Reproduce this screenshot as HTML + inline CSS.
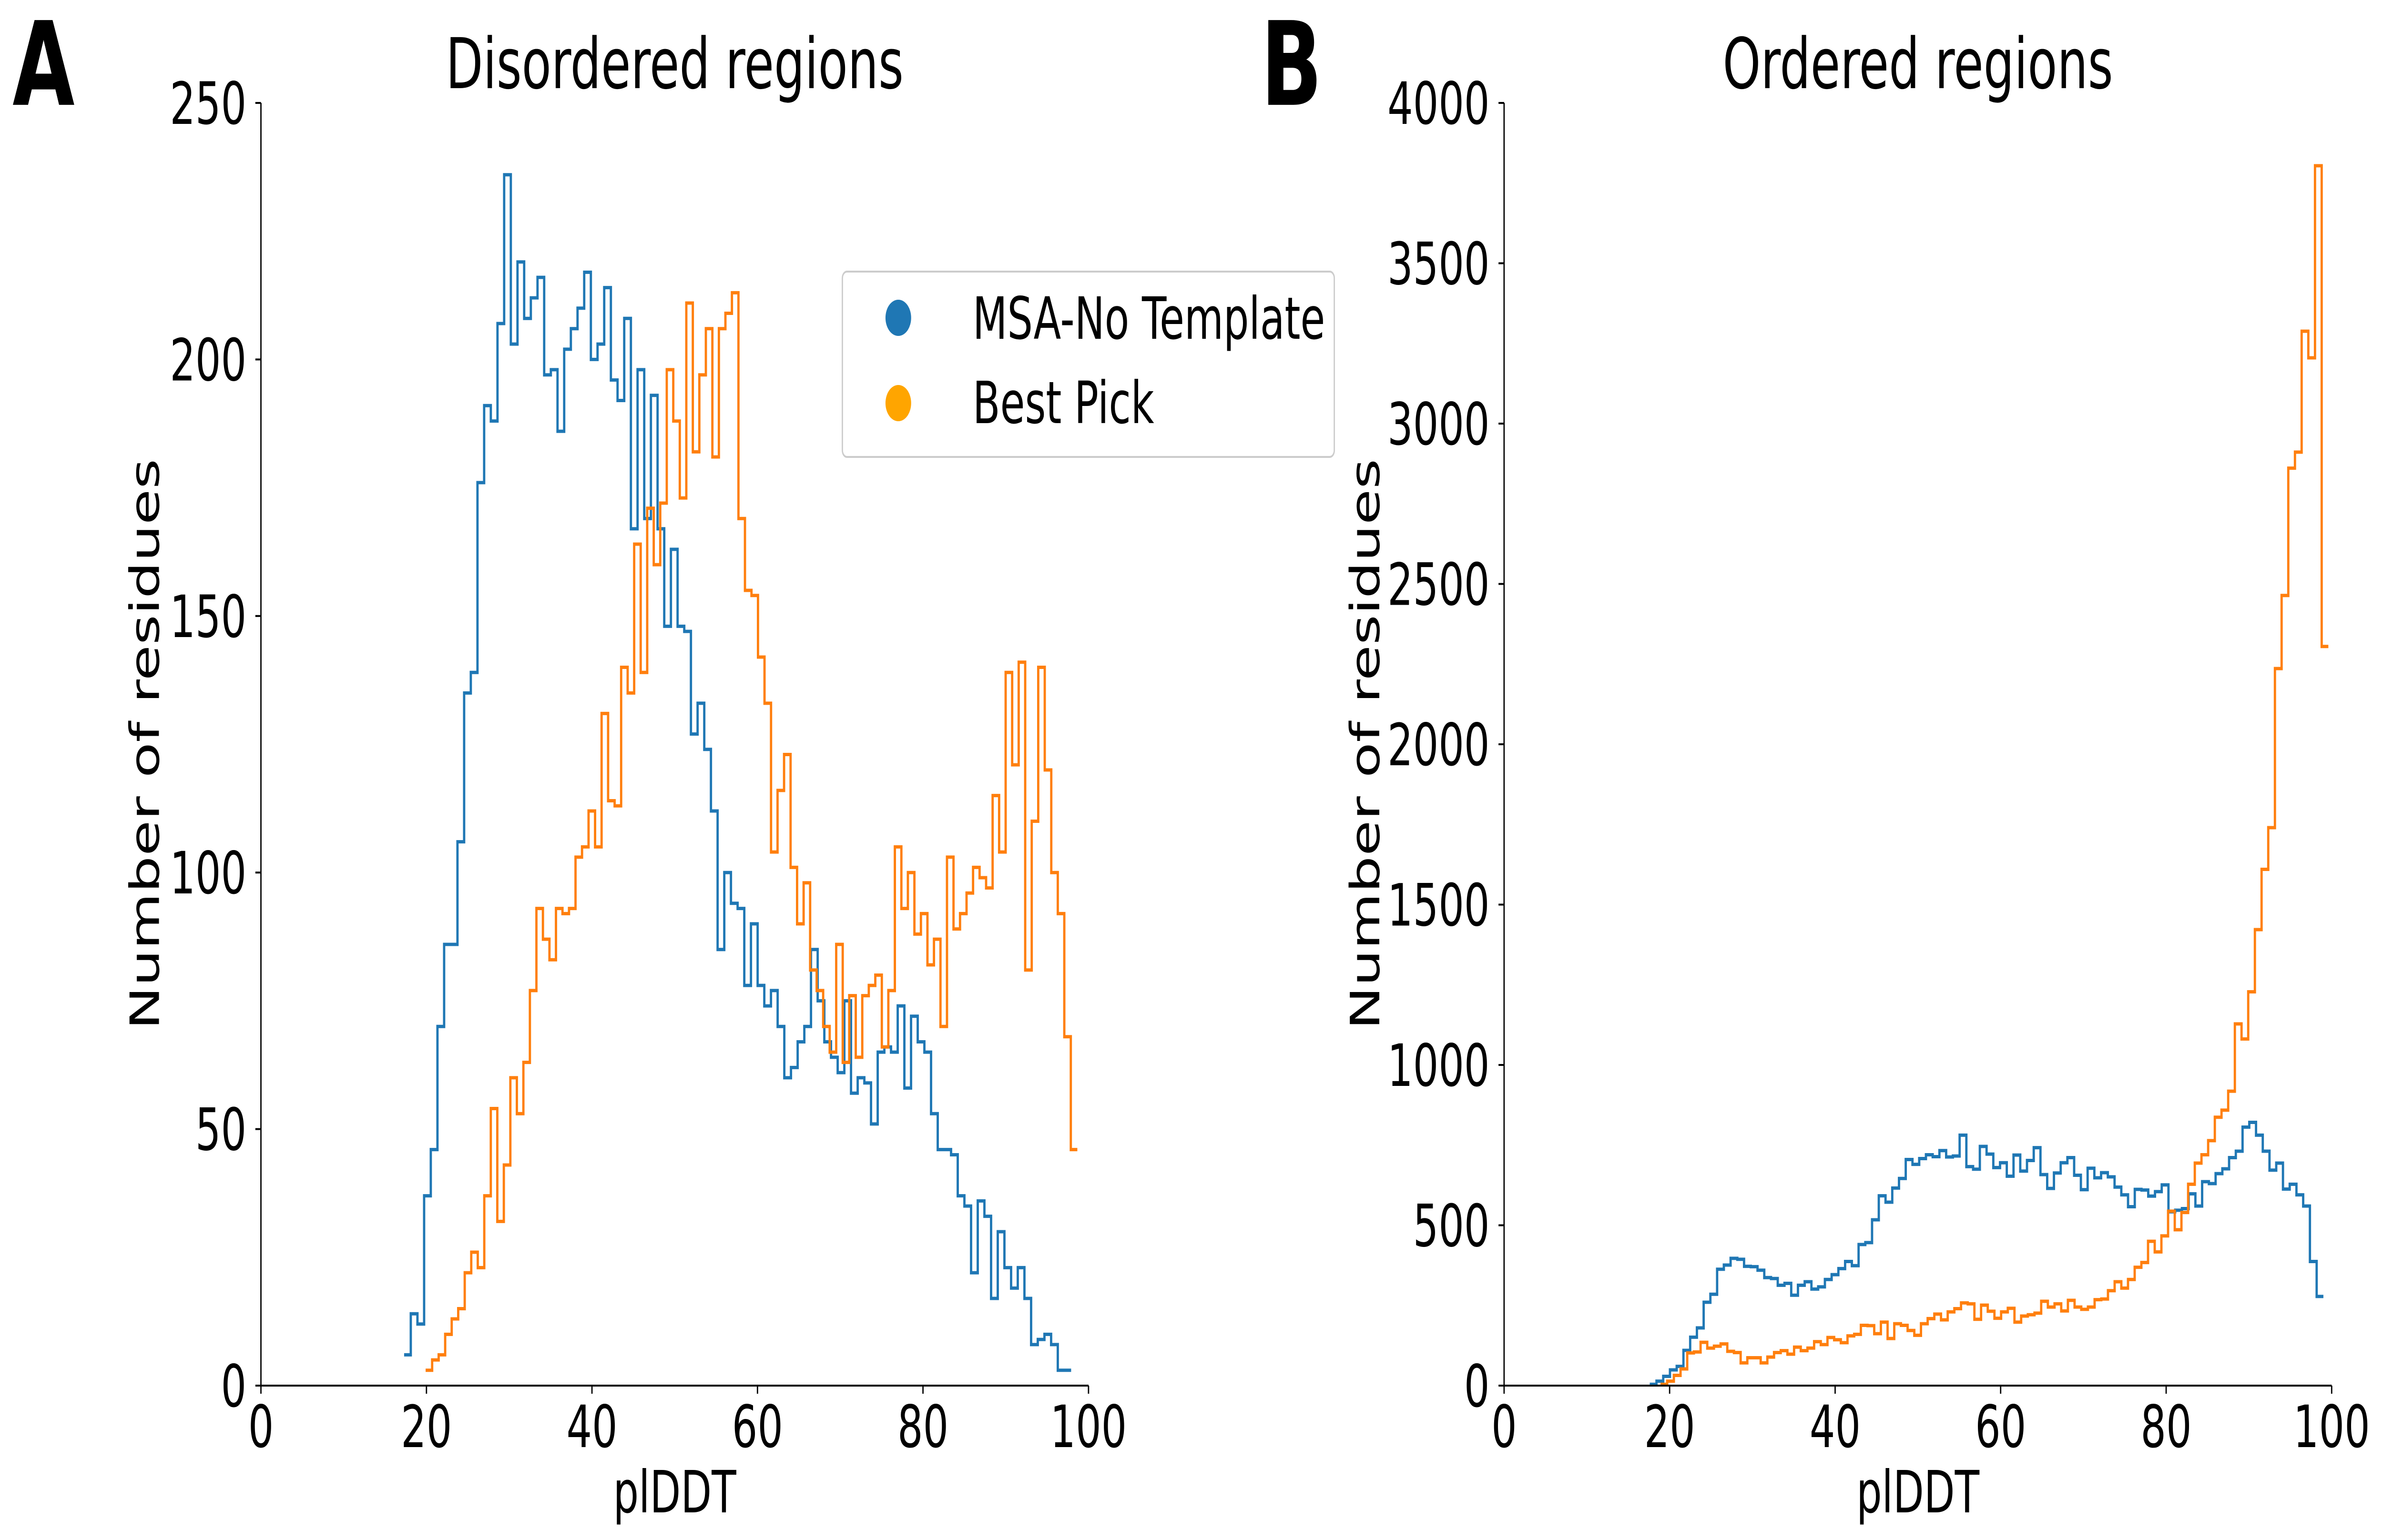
<!DOCTYPE html>
<html><head><meta charset="utf-8"><style>
html,body{margin:0;padding:0;background:#fff;width:100%;height:100%;overflow:hidden;}
svg{display:block;width:100vw;height:100vh;}
svg text{font-family:"DejaVu Sans","Liberation Sans",sans-serif;}
</style></head><body>
<svg id="chart" viewBox="0 0 7242 3232" preserveAspectRatio="none" xmlns="http://www.w3.org/2000/svg">
<text x="38" y="220" font-size="244" font-weight="bold">A</text>
<text x="3832" y="220" font-size="244" font-weight="bold">B</text>
<g id="panelA"></g>
<g id="panelB"></g>
<g>
<rect x="2560" y="570" width="1495" height="389" rx="14" fill="#fff" fill-opacity="0.8" stroke="#cccccc" stroke-width="4"/>
<g>
<ellipse cx="2730" cy="667" rx="39" ry="38" fill="#1f77b4"/>
<text x="2956" y="711" font-size="122">MSA-No Template</text>
</g>
<g>
<ellipse cx="2730" cy="846" rx="39" ry="38" fill="#ffa500"/>
<text x="2956" y="888" font-size="122">Best Pick</text>
</g>
</g>
</svg>
<script>
// Panel A data (Disordered regions)
const aBlueRange = [17.3, 97.9];
const aBlue = [6,14,12,37,46,70,86,86,106,135,139,176,191,188,207,236,203,219,208,212,216,197,198,186,202,206,210,217,200,203,214,196,192,208,167,198,169,193,167,148,163,
148,147,127,133,124,112,85,100,94,93,78,90,78,74,77,70,60,62,67,70,85,75,67,64,61,75,57,60,59,51,65,66,65,74,58,72,67,65,53,46,46,45,37,35,22,36,33,17,30,23,19,23,17,8,9,10,8,3,3];
const aOrangeRange = [19.9, 98.65];
const aOrange = [3,5,6,10,13,15,22,26,23,37,54,32,43,60,53,63,77,93,87,83,93,92,93,103,105,112,105,131,114,113,140,135,164,139,171,160,172,198,188,
173,211,182,197,206,181,206,209,213,169,155,154,142,133,104,116,123,101,90,98,81,77,70,65,86,63,76,64,76,78,80,66,77,105,93,100,88,92,82,87,70,103,89,92,96,101,99,97,115,104,139,121,141,81,110,140,120,100,92,68,46];
const aYTicks = [0,50,100,150,200,250];
// Panel B data (Ordered regions)
const bBlueRange = [17.6, 99.0];
const bBlue = [4,14,29,49,60,110,151,180,260,285,363,376,397,394,372,371,360,337,334,313,319,282,313,324,301,308,331,346,365,387,374,440,446,517,592,572,616,646,705,690,708,720,714,733,713,716,781,683,675,746,722,
680,695,653,719,669,702,742,658,615,663,695,711,656,611,678,648,664,651,619,595,558,612,610,591,605,626,542,547,552,598,560,636,630,661,676,711,731,806,821,781,731,672,694,613,628,595,560,387,278];
const bOrangeRange = [18.9, 99.6];
const bOrange = [4,14,32,52,102,105,135,117,123,130,107,103,71,87,87,71,89,103,109,98,120,109,117,137,128,150,143,134,155,160,188,187,162,198,147,193,188,172,157,193,209,223,205,230,240,258,255,207,251,232,
210,230,241,198,217,221,226,263,245,255,233,266,245,238,245,268,270,296,324,304,331,369,384,450,417,467,544,486,540,628,694,720,764,837,859,918,
1128,1081,1228,1422,1610,1740,2236,2464,2861,2911,3288,3205,3804,2305];
const bYTicks = [0,500,1000,1500,2000,2500,3000,3500,4000];
const xTicks = [0,20,40,60,80,100];

const NS = "http://www.w3.org/2000/svg";
function mk(tag, attrs, parent){const e=document.createElementNS(NS,tag);for(const k in attrs)e.setAttribute(k,attrs[k]);parent.appendChild(e);return e;}

function drawPanel(g, left, title, yMax, yTicks, series, yLabelX, panelKey){
  const right = left + 2515, top = 216, bottom = 2908;
  const xs = v => left + (v/100)*(right-left);
  const ys = v => bottom - (v/yMax)*(bottom-top);
  series.forEach(s => {
    const n = s.vals.length, w = (s.range[1]-s.range[0])/n;
    let d = "";
    s.vals.forEach((v,i) => {
      const x0 = xs(s.range[0]+i*w), x1 = xs(s.range[0]+(i+1)*w), y = ys(v);
      d += (i===0 ? "M"+x0+","+y : "L"+x0+","+y) + "L"+x1+","+y;
    });
    const p = mk("path",{d:d,fill:"none",stroke:s.color,"stroke-width":7,"stroke-linejoin":"miter"},g);
    
    
  });
  const sl = mk("line",{x1:left,y1:top,x2:left,y2:bottom+2,stroke:"#000","stroke-width":4},g);
  
  
  const sb = mk("line",{x1:left-2,y1:bottom,x2:right,y2:bottom,stroke:"#000","stroke-width":4},g);
  
  
  xTicks.forEach(t => {
    const x = xs(t);
    const tl = mk("line",{x1:x,y1:bottom,x2:x,y2:bottom+17,stroke:"#000","stroke-width":4},g);
    
    
    const tx = mk("text",{x:x,y:3037,"font-size":122,"text-anchor":"middle"},g);
    tx.textContent = t;
    
    
  });
  yTicks.forEach(t => {
    const y = ys(t);
    const tl = mk("line",{x1:left-17,y1:y,x2:left,y2:y,stroke:"#000","stroke-width":4},g);
    
    
    const tx = mk("text",{x:left-44,y:y+44,"font-size":122,"text-anchor":"end"},g);
    tx.textContent = t;
    
    
  });
  const xl = mk("text",{x:(left+right)/2,y:3174,"font-size":122,"text-anchor":"middle"},g);
  xl.textContent = "plDDT";
  
  
  const yl = mk("text",{x:0,y:0,"font-size":122,"text-anchor":"middle",transform:"translate("+yLabelX+","+((top+bottom)/2)+") rotate(-90)"},g);
  yl.textContent = "Number of residues";
  
  
  const tt = mk("text",{x:(left+right)/2,y:185,"font-size":147,"text-anchor":"middle"},g);
  tt.textContent = title;
  
  
}

drawPanel(document.getElementById("panelA"), 793, "Disordered regions", 250, aYTicks,
  [{vals:aBlue, range:aBlueRange, color:"#1f77b4", name:"msa-no-template-histogram"},
   {vals:aOrange, range:aOrangeRange, color:"#ff7f0e", name:"best-pick-histogram"}], 483, "panel-a");
drawPanel(document.getElementById("panelB"), 4571, "Ordered regions", 4000, bYTicks,
  [{vals:bBlue, range:bBlueRange, color:"#1f77b4", name:"msa-no-template-histogram"},
   {vals:bOrange, range:bOrangeRange, color:"#ff7f0e", name:"best-pick-histogram"}], 4192, "panel-b");
</script>
</body></html>
